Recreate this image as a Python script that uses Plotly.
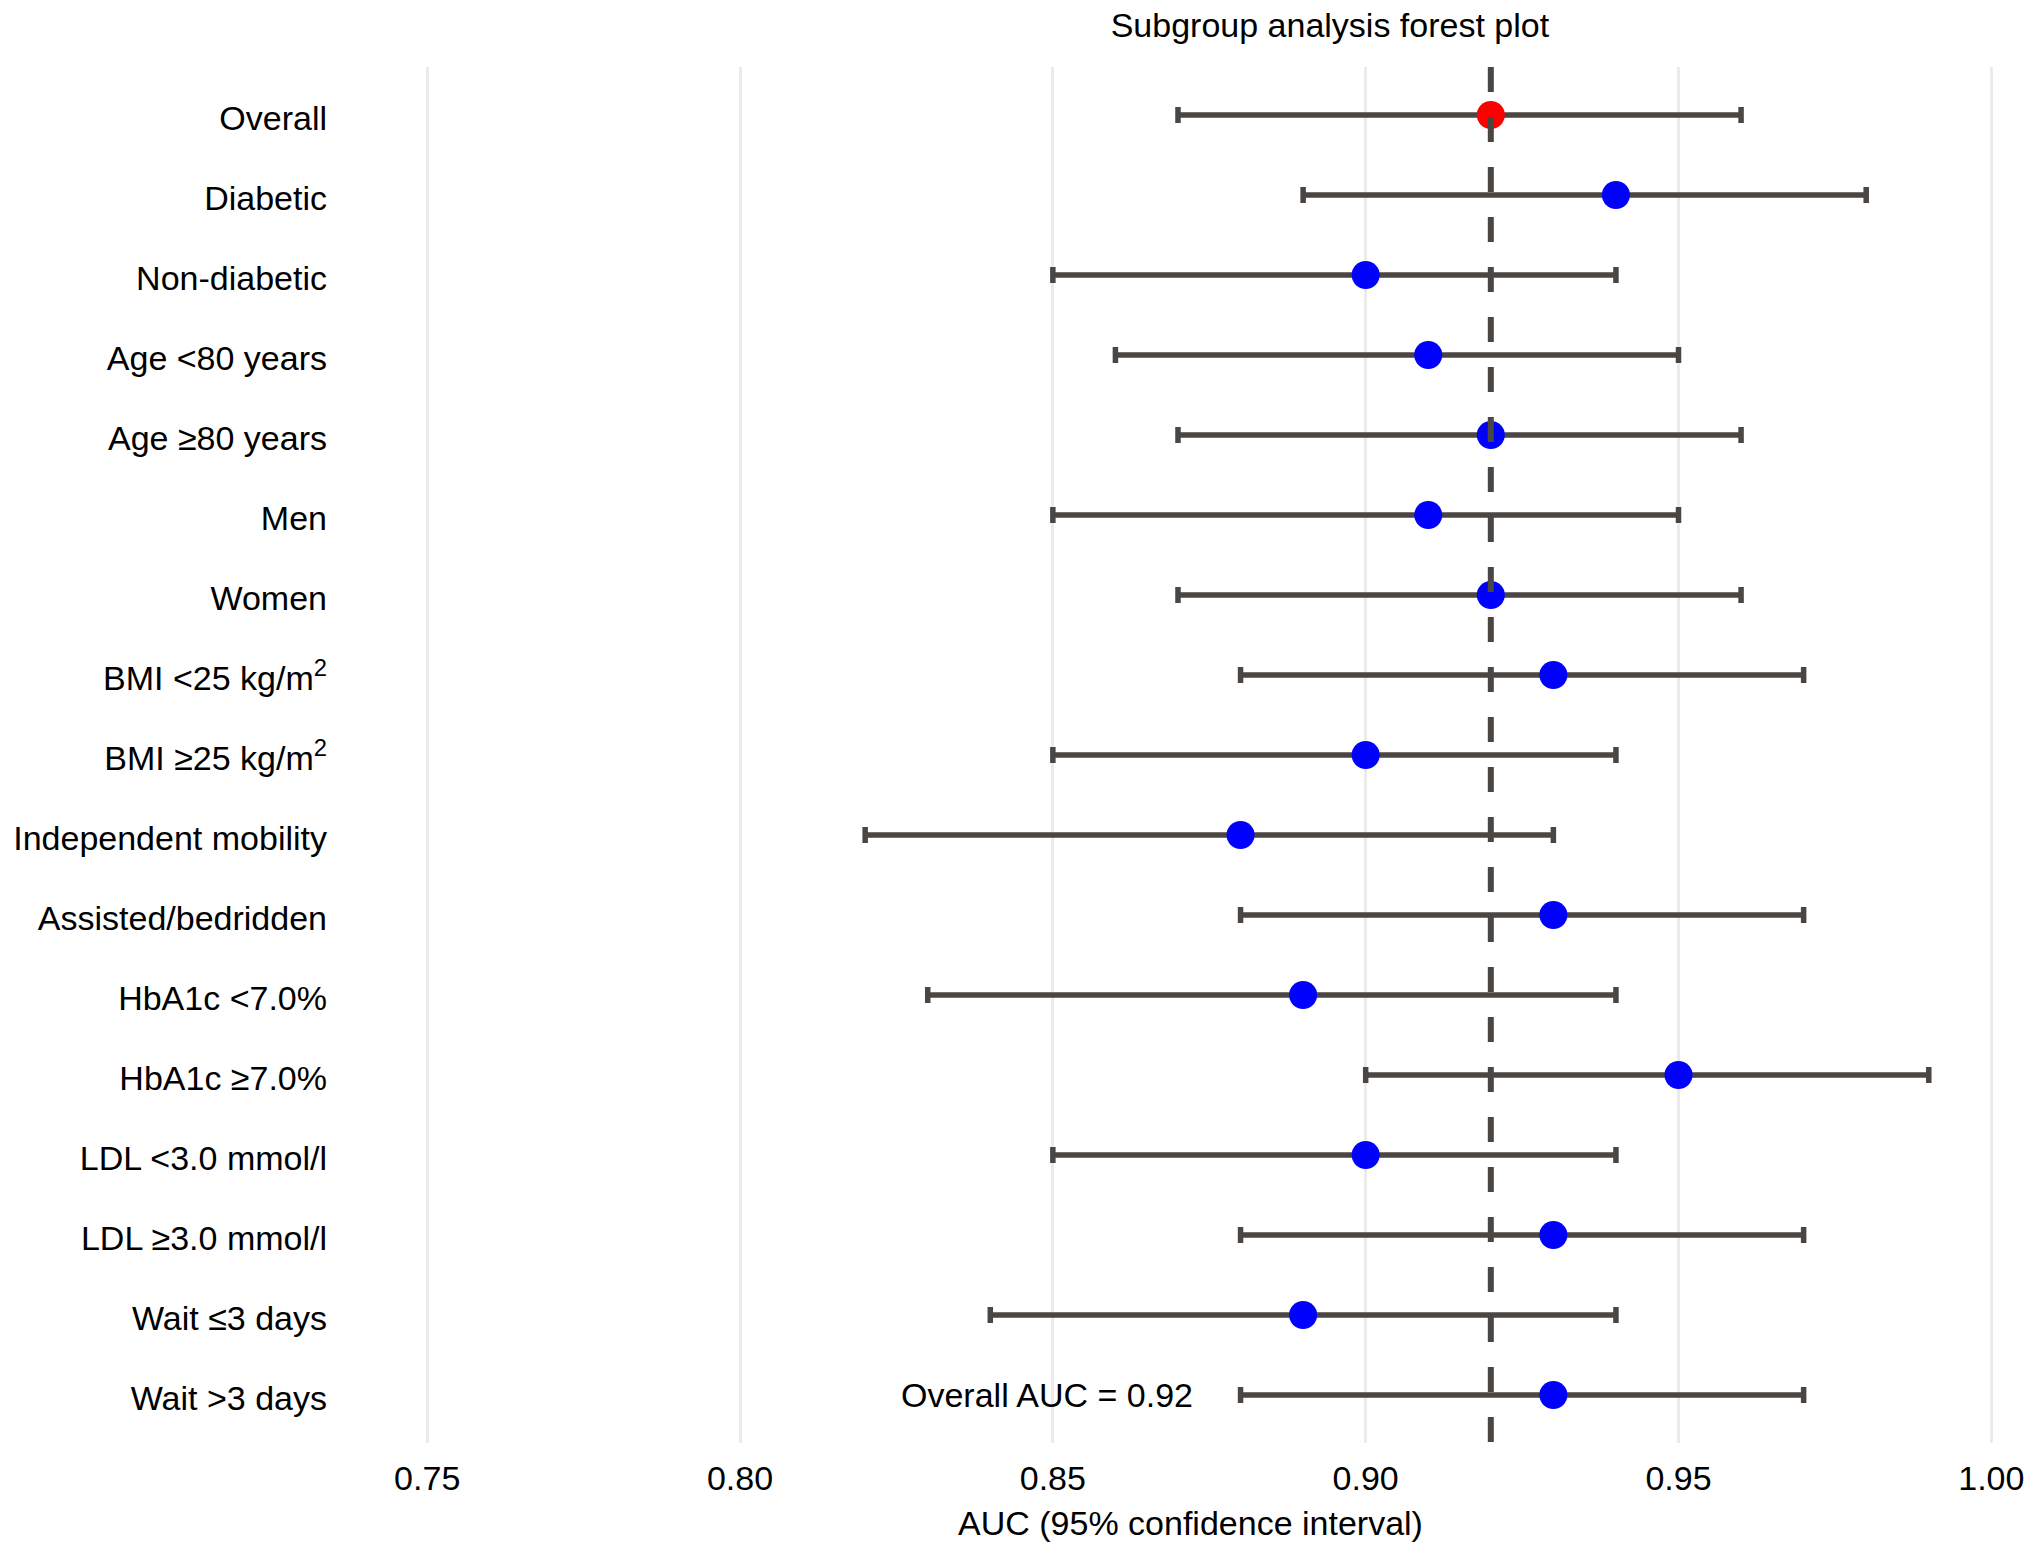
import plotly.graph_objects as go

# subgroup forest plot data
subgroups = ["Overall", "Diabetic", "Non-diabetic", "Age <80 years", "Age ≥80 years",
             "Men", "Women", "BMI <25 kg/m<sup>2</sup>", "BMI ≥25 kg/m<sup>2</sup>",
             "Independent mobility", "Assisted/bedridden", "HbA1c <7.0%", "HbA1c ≥7.0%",
             "LDL <3.0 mmol/l", "LDL ≥3.0 mmol/l", "Wait ≤3 days", "Wait >3 days"]
auc = [0.92, 0.94, 0.90, 0.91, 0.92, 0.91, 0.92, 0.93, 0.90, 0.88, 0.93, 0.89, 0.95,
       0.90, 0.93, 0.89, 0.93]
lower = [0.87, 0.89, 0.85, 0.86, 0.87, 0.85, 0.87, 0.88, 0.85, 0.82, 0.88, 0.83, 0.90,
         0.85, 0.88, 0.84, 0.88]
upper = [0.96, 0.98, 0.94, 0.95, 0.96, 0.95, 0.96, 0.97, 0.94, 0.93, 0.97, 0.94, 0.99,
         0.94, 0.97, 0.94, 0.97]
x_ticks = [0.75, 0.80, 0.85, 0.90, 0.95, 1.00]
overall_auc = 0.92

FONT = "Liberation Sans, Arial, Helvetica, sans-serif"
DARK = "#4a4643"

err_plus = [u - a for u, a in zip(upper, auc)]
err_minus = [a - l for a, l in zip(auc, lower)]

fig = go.Figure()

# error bars (invisible points)
fig.add_trace(go.Scatter(
    x=auc, y=subgroups, mode="markers",
    marker=dict(size=1, color="rgba(0,0,0,0)"),
    error_x=dict(type="data", symmetric=False, array=err_plus, arrayminus=err_minus,
                 color=DARK, thickness=5.5, width=8),
    hoverinfo="skip", showlegend=False,
))

# subgroup points
fig.add_trace(go.Scatter(
    x=auc[1:], y=subgroups[1:], mode="markers",
    marker=dict(size=28, color="#0000ff", line=dict(width=0)),
    showlegend=False,
))

# overall point
fig.add_trace(go.Scatter(
    x=auc[:1], y=subgroups[:1], mode="markers",
    marker=dict(size=28, color="#ff0000", line=dict(width=0)),
    showlegend=False,
))

# reference line at overall AUC
fig.add_shape(type="line", x0=overall_auc, x1=overall_auc, xref="x", yref="paper",
              y0=1, y1=0, line=dict(color=DARK, width=6, dash="25px,25px"), layer="above")

fig.add_annotation(x=0.849, y=subgroups[-1], text="Overall AUC = 0.92", showarrow=False,
                   xanchor="center", yanchor="middle", font=dict(size=34, color="black"))

fig.update_layout(
    width=2032, height=1557,
    margin=dict(l=349, r=0, t=67, b=114),
    paper_bgcolor="white", plot_bgcolor="white",
    font=dict(family=FONT, size=34, color="black"),
    title=dict(text="Subgroup analysis forest plot", xref="container", x=0.6545,
               xanchor="center", y=0.984, yanchor="middle", font=dict(size=34, color="black")),
    hovermode=False,
)

fig.update_xaxes(
    range=[0.7375, 1.0065], tickvals=x_ticks, tickformat=".2f",
    showgrid=True, gridcolor="#ebebeb", gridwidth=3,
    zeroline=False, showline=False, ticks="",
    tickfont=dict(size=34, color="black"), ticklabelstandoff=12,
    title=dict(text="AUC (95% confidence interval)", font=dict(size=34, color="black"), standoff=15),
)

fig.update_yaxes(
    type="category", categoryorder="array", categoryarray=subgroups,
    range=[len(subgroups) - 0.4, -0.6],
    showgrid=False, zeroline=False, showline=False, ticks="",
    tickfont=dict(size=34, color="black"), ticklabelstandoff=21, ticklabelshift=-3,
)

# page body has a default margin; drop it so the figure fills the window
fig.write_html("out.html", config={"displayModeBar": False},
               post_script="document.body.style.margin='0';")
